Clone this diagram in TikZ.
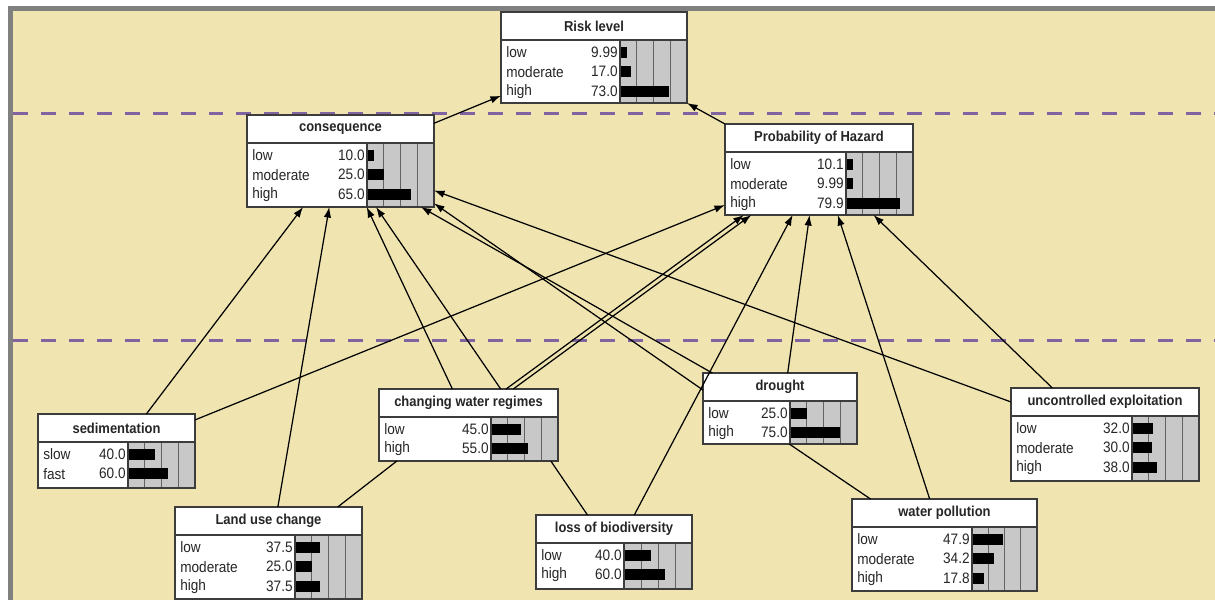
\documentclass[tikz,border=0pt]{standalone}
\usepackage{fontspec}
\setmainfont{Liberation Sans}[FakeStretch=0.9]
\usepackage{tikz}
\usetikzlibrary{arrows.meta, calc}
\definecolor{bgbeige}{RGB}{240,228,176}
\definecolor{bordergray}{RGB}{128,128,128}
\definecolor{levelline}{RGB}{128,100,162}
\definecolor{bargray}{RGB}{200,200,200}
\definecolor{framegray}{RGB}{60,60,60}
\definecolor{textgray}{gray}{0.15}

% belief box: name, left, top, right, bottom, bar start, title, states
\newcommand{\bnnode}[8]{%
  \fill[white] (#2,#3) rectangle (#4,#5);
  \fill[bargray] (#6,#3+28) rectangle (#4,#5);
  \foreach \g in {1,2,3}
    \draw[gridline] ({#6+\g*(#4-#6)/4},#3+28) -- ({#6+\g*(#4-#6)/4},#5);
  \foreach \st/\pc [count=\i] in {#8} {
    \node[statelab] at (#2+5,{#3+30.5+(\i-0.5)*19.5}) {\st};
    \node[statenum] at (#6-2,{#3+30.5+(\i-0.5)*19.5}) {\pc};
    \fill[black] (#6,{#3+30.5+(\i-0.5)*19.5-5.5}) rectangle ({#6+\pc*(#4-#6)/100},{#3+30.5+(\i-0.5)*19.5+5.5});
  }
  \draw[frameline] (#2,#3+28) -- (#4,#3+28);
  \draw[frameline] (#6,#3+28) -- (#6,#5);
  \node[titlelab] at ({(#2+#4)/2},#3+14) {#7};
  \node[bnframe, minimum width={(#4-#2)*0.02cm}, minimum height={(#5-#3)*0.02cm},
    anchor=north west] (#1) at (#2,#3) {};
}

\begin{document}
\begin{tikzpicture}[
  x=0.02cm, y=-0.02cm,
  gridline/.style={line width=0.45pt, draw=framegray!80},
  frameline/.style={line width=0.7pt, draw=framegray},
  bnframe/.style={draw=framegray, line width=0.8pt, inner sep=0pt, outer sep=0pt},
  statelab/.style={anchor=west, inner sep=0pt, text=textgray, font=\fontsize{8.6}{9}\selectfont},
  statenum/.style={anchor=east, inner sep=0pt, text=textgray, font=\fontsize{8.6}{9}\selectfont},
  titlelab/.style={inner sep=0pt, text=textgray, font=\bfseries\fontsize{8.2}{9}\selectfont},
  link/.style={-{Latex[length=6pt,width=4.2pt]}, line width=0.7pt},
  plainlink/.style={line width=0.7pt},
  levelsep/.style={draw=levelline, line width=1.7pt, dash pattern=on 8.5pt off 7.4pt}
]
  \useasboundingbox (0,0) rectangle (1215,603);

  % Fond et cadre
  \fill[bordergray] (8,6) rectangle (1215,600);
  \fill[bgbeige] (13,11) rectangle (1215,600);

  % Separations des niveaux
  \draw[levelsep] (13,113) -- (1215,113);
  \draw[levelsep] (13,340) -- (1215,340);

  % Niveau haut
  \bnnode{risk}{501}{12}{687}{103}{620}{Risk level}{low/9.99, moderate/17.0, high/73.0}

  % Niveau intermediaire
  \bnnode{cons}{247}{115}{434}{207}{367}{consequence}{low/10.0, moderate/25.0, high/65.0}
  \bnnode{poh}{725}{124}{913}{215}{846}{Probability of Hazard}{low/10.1, moderate/9.99, high/79.9}

  % Facteurs
  \bnnode{sed}{38}{414}{195}{488}{128}{sedimentation}{slow/40.0, fast/60.0}
  \bnnode{cwr}{379}{389}{558}{461}{491}{changing water regimes}{low/45.0, high/55.0}
  \bnnode{drought}{703}{373}{857}{444}{790}{drought}{low/25.0, high/75.0}
  \bnnode{ue}{1011}{388}{1199}{481}{1132}{uncontrolled exploitation}{low/32.0, moderate/30.0, high/38.0}
  \bnnode{luc}{175}{507}{362}{599}{295}{Land use change}{low/37.5, moderate/25.0, high/37.5}
  \bnnode{lob}{536}{515}{692}{589}{624}{loss of biodiversity}{low/40.0, high/60.0}
  \bnnode{wp}{852}{499}{1037}{591}{972}{water pollution}{low/47.9, moderate/34.2, high/17.8}

  % Liens vers le niveau de risque
  \draw[link] ($(cons.north east)!0.09!(cons.south east)$) -- ($(risk.north west)!0.92!(risk.south west)$);
  \draw[link] (poh.north west) -- (risk.south east);

  % Liens des facteurs
  \draw[link] ($(sed.north west)!0.69!(sed.north east)$) -- ($(cons.south west)!0.30!(cons.south east)$);
  \draw[link] ($(sed.north east)!0.08!(sed.south east)$) -- ($(poh.north west)!0.89!(poh.south west)$);
  \draw[link] ($(luc.north west)!0.55!(luc.north east)$) -- ($(cons.south west)!0.44!(cons.south east)$);
  \draw[plainlink] ($(luc.north west)!0.87!(luc.north east)$) -- ($(cwr.south west)!0.10!(cwr.south east)$);
  \draw[link] ($(cwr.north west)!0.41!(cwr.north east)$) -- ($(cons.south west)!0.64!(cons.south east)$);
  \draw[link] ($(cwr.north west)!0.68!(cwr.north east)$) -- ($(cons.south west)!0.69!(cons.south east)$);
  \draw[link] ($(cwr.north west)!0.71!(cwr.north east)$) -- ($(poh.south west)!0.10!(poh.south east)$);
  \draw[link] ($(cwr.north west)!0.75!(cwr.north east)$) -- ($(poh.south west)!0.14!(poh.south east)$);
  \draw[plainlink] ($(cwr.south west)!0.96!(cwr.south east)$) -- ($(lob.north west)!0.33!(lob.north east)$);
  \draw[link] ($(lob.north west)!0.63!(lob.north east)$) -- ($(poh.south west)!0.36!(poh.south east)$);
  \draw[link] ($(drought.north west)!0.06!(drought.north east)$) -- ($(cons.south west)!0.93!(cons.south east)$);
  \draw[link] ($(drought.north west)!0.24!(drought.south west)$) -- ($(cons.north east)!0.96!(cons.south east)$);
  \draw[link] ($(drought.north west)!0.55!(drought.north east)$) -- ($(poh.south west)!0.45!(poh.south east)$);
  \draw[plainlink] ($(drought.south west)!0.56!(drought.south east)$) -- ($(wp.north west)!0.10!(wp.north east)$);
  \draw[link] ($(wp.north west)!0.42!(wp.north east)$) -- ($(poh.south west)!0.60!(poh.south east)$);
  \draw[link] ($(ue.north west)!0.22!(ue.north east)$) -- ($(poh.south west)!0.79!(poh.south east)$);
  \draw[link] ($(ue.north west)!0.15!(ue.south west)$) -- ($(cons.north east)!0.82!(cons.south east)$);

\end{tikzpicture}
\end{document}
